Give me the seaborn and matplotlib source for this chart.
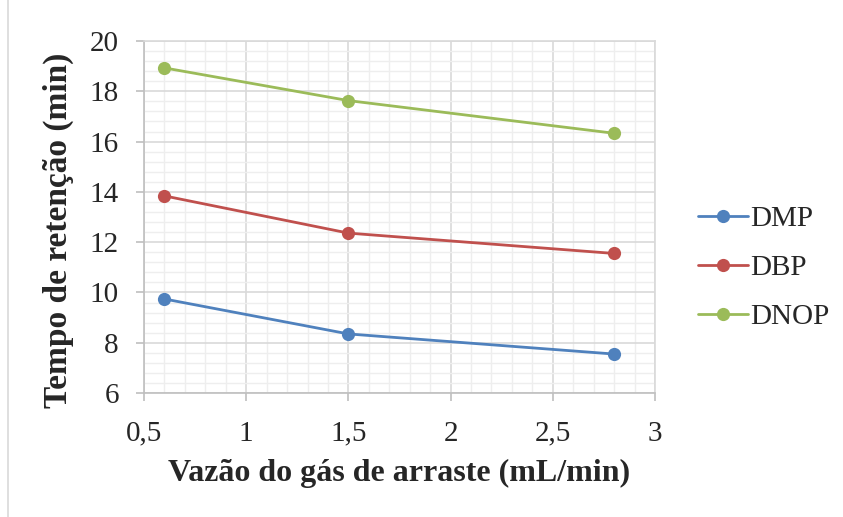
import numpy as np
import pandas as pd
import seaborn as sns
import matplotlib.pyplot as plt
from matplotlib.ticker import MultipleLocator, FuncFormatter
from matplotlib.lines import Line2D

sns.set_theme(style="white")
plt.rcParams['font.family'] = ['Liberation Serif', 'DejaVu Serif']

# dados
vazao = [0.6, 1.5, 2.8]
dmp = [9.74, 8.35, 7.55]
dbp = [13.84, 12.36, 11.55]
dnop = [18.93, 17.63, 16.33]
series = ["DMP", "DBP", "DNOP"]
cores = ["#4F81BD", "#C0504D", "#9BBB59"]

df = pd.DataFrame({
    "vazao": vazao * 3,
    "tempo": dmp + dbp + dnop,
    "serie": np.repeat(series, len(vazao)),
})

fig = plt.figure(figsize=(8.43, 5.17), dpi=100)
ax = fig.add_axes([0.1708, 0.2398, 0.777 - 0.1708, 0.9207 - 0.2398])

sns.lineplot(data=df, x="vazao", y="tempo", hue="serie", hue_order=series,
             palette=cores, marker="o", markersize=9.5, markeredgewidth=0,
             linewidth=2.0, ax=ax, legend=False, zorder=3)

ax.set_xlim(0.5, 3)
ax.set_ylim(6, 20)
ax.xaxis.set_major_locator(MultipleLocator(0.5))
ax.xaxis.set_minor_locator(MultipleLocator(0.1))
ax.yaxis.set_major_locator(MultipleLocator(2))
ax.yaxis.set_minor_locator(MultipleLocator(0.4))
fmt = FuncFormatter(lambda v, p: "{:g}".format(v).replace(".", ","))
ax.xaxis.set_major_formatter(fmt)
ax.yaxis.set_major_formatter(fmt)

ax.grid(which="major", color="#D9D9D9", linewidth=1.2)
ax.grid(which="minor", color="#EEEEEE", linewidth=1.0)
ax.set_axisbelow(True)
for s in ax.spines.values():
    s.set_color("#D9D9D9")
    s.set_linewidth(1.2)
ax.spines["left"].set_color("#BFBFBF")
ax.spines["bottom"].set_color("#BFBFBF")

ax.tick_params(axis="both", which="major", direction="out", length=6,
               width=1.2, color="#BFBFBF", labelsize=21,
               left=True, bottom=True)
ax.tick_params(axis="x", which="major", pad=14)
ax.tick_params(axis="y", which="major", pad=12)
ax.tick_params(axis="both", which="minor", length=0)

ax.set_xlabel("Vazão do gás de arraste (mL/min)", fontsize=23,
              fontweight="bold", labelpad=9)
ax.set_ylabel("Tempo de retenção (min)", fontsize=24,
              fontweight="bold")
ax.yaxis.set_label_coords(-0.137, 0.463)

handles = [Line2D([0], [0], color=c, marker="o", markersize=9.5,
                  markeredgewidth=0, linewidth=2.0) for c in cores]
fig.legend(handles, series, loc="center left", bbox_to_anchor=(0.797, 0.482),
           frameon=False, fontsize=21, handlelength=1.7, handletextpad=0.07,
           labelspacing=0.78)

fig.add_artist(Line2D([0.009, 0.009], [0, 1], color="#D9D9D9", linewidth=1.2))

plt.savefig("out.png", dpi=100)
